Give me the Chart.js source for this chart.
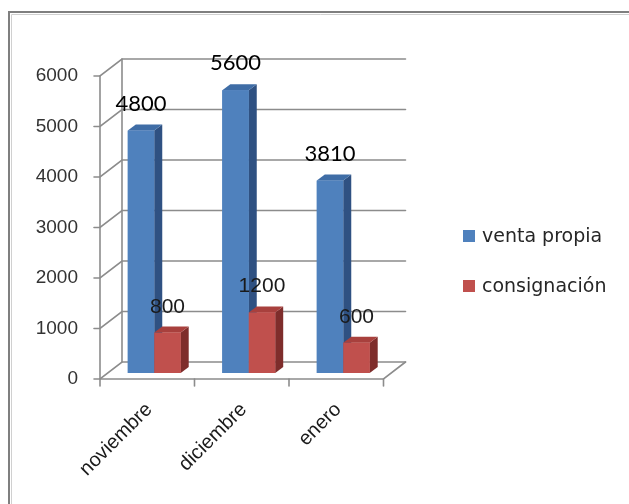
<!DOCTYPE html>
<html>
<head>
<meta charset="utf-8">
<script src="https://cdn.jsdelivr.net/npm/chart.js@4.4.1/dist/chart.umd.min.js"></script>
<style>
    html, body { margin: 0; padding: 0; background: #fff; }
    #wrap { width: 629px; height: 504px; }
</style>
</head>
<body>
<div id="wrap"><canvas id="miGrafica" width="629" height="504"></canvas></div>
<script>
// datos del grafico
const meses = ['noviembre', 'diciembre', 'enero'];
const ventaPropia = [4800, 5600, 3810];
const consignacion = [800, 1200, 600];
const nombresSeries = ['venta propia', 'consignación'];
const ticksY = [0, 1000, 2000, 3000, 4000, 5000, 6000];

// colores de cada serie: frente, arriba, lado
const colores = [
    { frente: '#4F81BD', arriba: '#3F6DA6', lado: '#2F5182' },
    { frente: '#C0504D', arriba: '#A8403D', lado: '#7E2D2B' }
];

// desplazamientos del efecto 3D
const frente = { dx: -7, dy: 6 };   // plano frontal respecto a las barras
const fondo = { dx: 15, dy: -11 };  // pared del fondo
const prof = { dx: 8, dy: -6 };     // profundidad de cada barra
const gris = '#8c8c8c';

const plugin3d = {
    id: 'plugin3d',
    beforeDraw(chart) {
        const ctx = chart.ctx;
        ctx.save();
        // marco exterior
        ctx.strokeStyle = '#7f7f7f';
        ctx.lineWidth = 2;
        ctx.beginPath();
        ctx.moveTo(9, 504);
        ctx.lineTo(9, 12);
        ctx.lineTo(629, 12);
        ctx.stroke();
        ctx.strokeStyle = '#d0d0d0';
        ctx.lineWidth = 1;
        ctx.beginPath();
        ctx.moveTo(11.5, 504);
        ctx.lineTo(11.5, 14.5);
        ctx.lineTo(629, 14.5);
        ctx.stroke();
        ctx.restore();
    },
    beforeDatasetsDraw(chart) {
        const ctx = chart.ctx;
        const y = chart.scales.y;
        const area = chart.chartArea;
        const izq = area.left + frente.dx;
        const der = area.right + frente.dx;
        const izqF = area.left + fondo.dx;
        const derF = area.right + fondo.dx;
        ctx.save();
        ctx.strokeStyle = gris;
        ctx.lineWidth = 1.6;
        ctx.lineCap = 'round';

        ticksY.forEach(v => {
            const py = y.getPixelForValue(v);
            ctx.beginPath();
            // linea del fondo
            ctx.moveTo(derF, py + fondo.dy);
            ctx.lineTo(izqF, py + fondo.dy);
            // pared izquierda
            ctx.lineTo(izq, py + frente.dy);
            // marca del eje
            ctx.lineTo(izq - 6, py + frente.dy);
            ctx.stroke();
        });

        const y0 = y.getPixelForValue(0);
        const yMax = y.getPixelForValue(6000);
        ctx.beginPath();
        // esquina de atras
        ctx.moveTo(izqF, y0 + fondo.dy);
        ctx.lineTo(izqF, yMax + fondo.dy);
        // eje vertical
        ctx.moveTo(izq, y0 + frente.dy);
        ctx.lineTo(izq, yMax + frente.dy);
        // piso
        ctx.moveTo(izq, y0 + frente.dy);
        ctx.lineTo(der, y0 + frente.dy);
        ctx.lineTo(derF, y0 + fondo.dy);
        ctx.stroke();

        // marcas del eje x
        const paso = (area.right - area.left) / meses.length;
        for (let i = 0; i <= meses.length; i++) {
            const px = area.left + i * paso + frente.dx;
            ctx.beginPath();
            ctx.moveTo(px, y0 + frente.dy);
            ctx.lineTo(px, y0 + frente.dy + 7);
            ctx.stroke();
        }
        ctx.restore();
    },
    afterDatasetsDraw(chart) {
        const ctx = chart.ctx;
        ctx.save();
        for (let i = 0; i < meses.length; i++) {
            chart.data.datasets.forEach((ds, d) => {
                const bar = chart.getDatasetMeta(d).data[i];
                const c = colores[d];
                const x0 = bar.x - bar.width / 2;
                const x1 = bar.x + bar.width / 2;
                const top = bar.y;
                const base = bar.base;

                // lado
                ctx.fillStyle = c.lado;
                ctx.beginPath();
                ctx.moveTo(x1, top);
                ctx.lineTo(x1 + prof.dx, top + prof.dy);
                ctx.lineTo(x1 + prof.dx, base + prof.dy);
                ctx.lineTo(x1, base);
                ctx.closePath();
                ctx.fill();

                // arriba
                ctx.fillStyle = c.arriba;
                ctx.beginPath();
                ctx.moveTo(x0, top);
                ctx.lineTo(x0 + prof.dx, top + prof.dy);
                ctx.lineTo(x1 + prof.dx, top + prof.dy);
                ctx.lineTo(x1, top);
                ctx.closePath();
                ctx.fill();

                // frente
                ctx.fillStyle = c.frente;
                ctx.fillRect(x0, top, x1 - x0, base - top);
            });
        }

        // etiquetas de valores
        ctx.textAlign = 'center';
        ctx.textBaseline = 'alphabetic';
        chart.data.datasets.forEach((ds, d) => {
            chart.getDatasetMeta(d).data.forEach((bar, i) => {
                if (d === 0) {
                    ctx.font = '22px Lato';
                    ctx.fillStyle = '#000';
                } else {
                    ctx.font = '21px "Liberation Sans"';
                    ctx.fillStyle = '#1a1a1a';
                }
                ctx.fillText(String(ds.data[i]), bar.x, bar.y - 20);
            });
        });
        ctx.restore();
    },
    afterDraw(chart) {
        // leyenda
        const ctx = chart.ctx;
        ctx.save();
        ctx.font = '19px "DejaVu Sans"';
        ctx.textBaseline = 'middle';
        ctx.textAlign = 'left';
        nombresSeries.forEach((nombre, d) => {
            const cy = 236 + d * 50;
            ctx.fillStyle = colores[d].frente;
            ctx.fillRect(463, cy - 6, 12, 12);
            ctx.fillStyle = '#262626';
            ctx.fillText(nombre, 482, cy + 1);
        });
        ctx.restore();
    }
};

function crearGrafica() {
    const ctx = document.getElementById('miGrafica').getContext('2d');

    window.myChart = new Chart(ctx, {
        type: 'bar',
        data: {
            labels: meses,
            datasets: [
                {
                    label: nombresSeries[0],
                    data: ventaPropia,
                    backgroundColor: colores[0].frente,
                    borderWidth: 0
                },
                {
                    label: nombresSeries[1],
                    data: consignacion,
                    backgroundColor: colores[1].frente,
                    borderWidth: 0
                }
            ]
        },
        options: {
            responsive: false,
            animation: false,
            events: [],
            layout: {
                padding: { left: 0, top: 70, right: 238.5, bottom: 0 }
            },
            datasets: {
                bar: {
                    categoryPercentage: 0.56,
                    barPercentage: 1
                }
            },
            scales: {
                x: {
                    grid: { display: false, drawTicks: false },
                    border: { display: false },
                    ticks: {
                        autoSkip: false,
                        maxRotation: 45,
                        minRotation: 45,
                        padding: 25,
                        labelOffset: -5,
                        color: '#1a1a1a',
                        font: { family: 'Liberation Sans', size: 20 }
                    },
                    afterFit: (scale) => { scale.height = 131; }
                },
                y: {
                    min: 0,
                    max: 6000,
                    grid: { display: false, drawTicks: false },
                    border: { display: false },
                    ticks: {
                        stepSize: 1000,
                        padding: 29,
                        labelOffset: 6,
                        color: '#333',
                        font: { family: 'Liberation Sans', size: 19 },
                        callback: (v) => String(v)
                    },
                    afterFit: (scale) => { scale.width = 107; }
                }
            },
            plugins: {
                legend: { display: false },
                tooltip: { enabled: false }
            }
        },
        plugins: [plugin3d]
    });
}

// esperar a que las fuentes esten listas
Promise.all([
    document.fonts.load('22px Lato'),
    document.fonts.load('20px "Liberation Sans"'),
    document.fonts.load('19px "DejaVu Sans"')
]).then(crearGrafica, crearGrafica);
</script>
</body>
</html>
